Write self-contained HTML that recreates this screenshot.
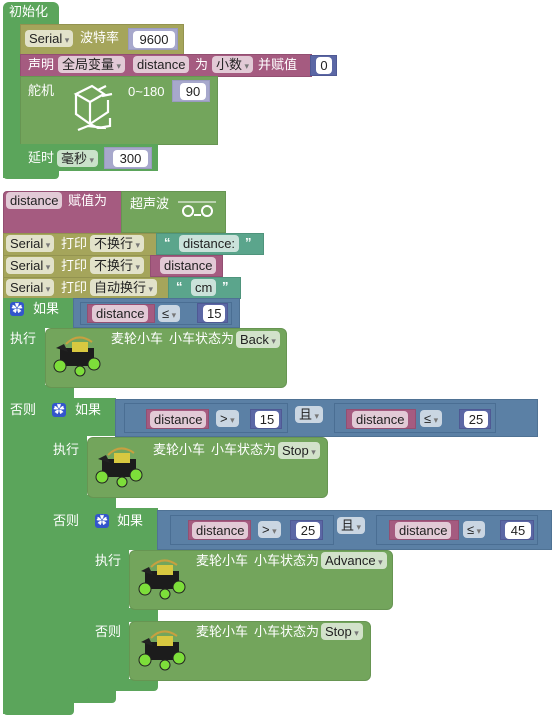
<!DOCTYPE html>
<html><head><meta charset="utf-8">
<style>
body{margin:0;width:556px;height:718px;background:#fff;position:relative;overflow:hidden;font-family:"Liberation Sans","Noto Sans CJK SC",sans-serif;}
.b{position:absolute;box-sizing:border-box;}
.t{position:absolute;color:#fff;font-size:13px;line-height:16px;white-space:nowrap;}
.f{position:absolute;box-sizing:border-box;height:17px;border-radius:4px;font-size:13px;line-height:17px;color:#222;padding:0 4px;white-space:nowrap;}
.dd::after{content:" ▾";font-size:9px;color:#777;}
.w{background:rgba(255,255,255,.68);}
.nf{background:#fff;text-align:center;}
.g{background:#5ba55b}
.g2{background:#73a55c;border:1px solid #679552}
.ol{background:#a5a55b;border:1px solid #939350}
.pk{background:#a55b80;border:1px solid #934f72}
.bl{background:#5b80a5;border:1px solid #4f7294}
.bx{border:1px solid #4a6e93;background:#5b80a5}
.nm{background:#5b67a5;border:1px solid #4f5994}
.nl{background:#a7a8cc;border:1px solid #9a9bbf}
.te{background:#5ba58c;border:1px solid #4f947c}
</style></head><body>

<!-- init -->
<div class="b g" style="left:3px;top:2px;width:56px;height:22px;border-radius:6px 6px 0 0"></div>
<div class="t" style="left:9px;top:4px">初始化</div>
<div class="b g" style="left:3px;top:20px;width:18px;height:158px"></div>
<div class="b g" style="left:3px;top:170px;width:56px;height:9px;border-radius:0 0 4px 4px"></div>

<div class="b ol" style="left:20px;top:24px;width:164px;height:31px"></div>
<div class="f w dd" style="left:25px;top:30px">Serial</div>
<div class="t" style="left:80px;top:30px">波特率</div>
<div class="b nl" style="left:128px;top:28px;width:50px;height:22px"></div>
<div class="f nf" style="left:133px;top:31px;width:42px">9600</div>

<div class="b pk" style="left:20px;top:54px;width:292px;height:23px"></div>
<div class="t" style="left:28px;top:57px">声明</div>
<div class="f w dd" style="left:58px;top:56px">全局变量</div>
<div class="f w" style="left:133px;top:56px">distance</div>
<div class="t" style="left:195px;top:57px">为</div>
<div class="f w dd" style="left:212px;top:56px">小数</div>
<div class="t" style="left:258px;top:57px">并赋值</div>
<div class="b nm" style="left:310px;top:55px;width:27px;height:21px"></div>
<div class="f nf" style="left:316px;top:57px;width:16px">0</div>

<div class="b g2" style="left:20px;top:76px;width:198px;height:69px"></div>
<div class="t" style="left:28px;top:83px">舵机</div>
<svg class="b" style="left:66px;top:82px" width="50" height="52" viewBox="0 0 50 52" fill="none" stroke="#fff" stroke-width="2.2"><path d="M10 12 L26 4 L38 12 L24 20 Z M10 12 L10 32 L24 42 L24 20 M24 42 L42 30 L42 18 M32 8 L40 4 M36 14 L46 12 M24 42 L32 46 L44 44 L44 36 M12 48 L22 44 L40 46"/></svg>
<div class="t" style="left:128px;top:84px">0~180</div>
<div class="b nl" style="left:172px;top:80px;width:38px;height:22px"></div>
<div class="f nf" style="left:180px;top:83px;width:26px">90</div>

<div class="b g" style="left:20px;top:144px;width:138px;height:27px"></div>
<div class="t" style="left:28px;top:150px">延时</div>
<div class="f w dd" style="left:57px;top:150px">毫秒</div>
<div class="b nl" style="left:104px;top:147px;width:48px;height:22px"></div>
<div class="f nf" style="left:113px;top:150px;width:35px">300</div>

<!-- second stack -->
<div class="b pk" style="left:3px;top:191px;width:120px;height:43px;border-radius:4px 0 0 0"></div>
<div class="f w" style="left:6px;top:192px">distance</div>
<div class="t" style="left:68px;top:193px">赋值为</div>
<div class="b g2" style="left:121px;top:191px;width:105px;height:42px"></div>
<div class="t" style="left:130px;top:196px">超声波</div>
<svg class="b" style="left:176px;top:200px" width="42" height="20"><path d="M2 2 H40" stroke="#fff"/><circle cx="12" cy="11" r="5" stroke="#fff" stroke-width="2" fill="none"/><circle cx="31" cy="11" r="5" stroke="#fff" stroke-width="2" fill="none"/><path d="M18 15 H25" stroke="#fff" stroke-width="2"/></svg>

<div class="b ol" style="left:3px;top:233px;width:155px;height:23px"></div>
<div class="f w dd" style="left:6px;top:235px">Serial</div>
<div class="t" style="left:61px;top:236px">打印</div>
<div class="f w dd" style="left:90px;top:235px">不换行</div>
<div class="b te" style="left:156px;top:233px;width:108px;height:22px"></div>
<div class="t" style="left:164px;top:235px;font-weight:bold">“</div>
<div class="f w" style="left:179px;top:235px">distance:</div>
<div class="t" style="left:245px;top:235px;font-weight:bold">”</div>

<div class="b ol" style="left:3px;top:255px;width:155px;height:23px"></div>
<div class="f w dd" style="left:6px;top:257px">Serial</div>
<div class="t" style="left:61px;top:258px">打印</div>
<div class="f w dd" style="left:90px;top:257px">不换行</div>
<div class="b pk" style="left:150px;top:255px;width:73px;height:22px"></div>
<div class="f w" style="left:160px;top:257px">distance</div>

<div class="b ol" style="left:3px;top:277px;width:167px;height:22px"></div>
<div class="f w dd" style="left:6px;top:279px">Serial</div>
<div class="t" style="left:61px;top:280px">打印</div>
<div class="f w dd" style="left:90px;top:279px">自动换行</div>
<div class="b te" style="left:168px;top:277px;width:73px;height:22px"></div>
<div class="t" style="left:176px;top:279px;font-weight:bold">“</div>
<div class="f w" style="left:191px;top:279px">cm</div>
<div class="t" style="left:222px;top:279px;font-weight:bold">”</div>

<!-- outer if -->
<div class="b g" style="left:3px;top:298px;width:71px;height:30px"></div>
<div class="b g" style="left:3px;top:298px;width:42px;height:416px"></div>
<div class="b g" style="left:3px;top:385px;width:71px;height:14px"></div>
<div class="b g" style="left:3px;top:700px;width:71px;height:15px;border-radius:0 0 4px 4px"></div>
<div class="b" style="left:10px;top:302px;width:14px;height:14px;background:#3355cc;border-radius:3px;color:#fff;font-size:11px;line-height:14px;text-align:center">✿</div>
<div class="t" style="left:33px;top:301px">如果</div>
<div class="t" style="left:10px;top:331px">执行</div>
<div class="t" style="left:10px;top:402px">否则</div>
<div class="b bl" style="left:73px;top:298px;width:167px;height:30px"></div>
<div class="b bx" style="left:80px;top:302px;width:152px;height:23px"></div>
<div class="b pk" style="left:87px;top:304px;width:68px;height:19px"></div>
<div class="f w" style="left:92px;top:305px">distance</div>
<div class="f w dd" style="left:158px;top:305px">≤</div>
<div class="b nm" style="left:197px;top:303px;width:31px;height:20px"></div>
<div class="f nf" style="left:203px;top:305px;width:22px">15</div>

<div class="b g2" style="left:45px;top:328px;width:242px;height:60px;border-radius:6px"></div>
<svg class="b" style="left:52px;top:334px" width="50" height="44"><path d="M14 10 Q26 -2 40 8" stroke="#c8a040" fill="none" stroke-width="2"/><rect x="8" y="14" width="34" height="18" fill="#1c1c1c"/><rect x="20" y="8" width="16" height="10" fill="#d8c840"/><path d="M4 14 L12 10 L16 18 Z" fill="#222"/><circle cx="8" cy="32" r="6" fill="#7dde3a" stroke="#222"/><circle cx="42" cy="30" r="6" fill="#7dde3a" stroke="#222"/><circle cx="28" cy="37" r="5" fill="#7dde3a" stroke="#222"/></svg>
<div class="t" style="left:111px;top:331px">麦轮小车</div>
<div class="t" style="left:169px;top:331px">小车状态为</div>
<div class="f w dd" style="left:236px;top:331px">Back</div>

<!-- if1 -->
<div class="b g" style="left:45px;top:398px;width:71px;height:38px;border-radius:6px 0 0 0"></div>
<div class="b g" style="left:45px;top:398px;width:42px;height:305px"></div>
<div class="b g" style="left:45px;top:495px;width:71px;height:14px"></div>
<div class="b g" style="left:45px;top:690px;width:71px;height:13px;border-radius:0 0 4px 4px"></div>
<div class="b" style="left:52px;top:403px;width:14px;height:14px;background:#3355cc;border-radius:3px;color:#fff;font-size:11px;line-height:14px;text-align:center">✿</div>
<div class="t" style="left:75px;top:402px">如果</div>
<div class="t" style="left:53px;top:442px">执行</div>
<div class="t" style="left:53px;top:513px">否则</div>
<div class="b bl" style="left:115px;top:399px;width:423px;height:38px"></div>
<div class="b bx" style="left:124px;top:403px;width:164px;height:30px"></div>
<div class="b pk" style="left:146px;top:409px;width:63px;height:20px"></div>
<div class="f w" style="left:150px;top:411px">distance</div>
<div class="f w dd" style="left:216px;top:410px">&gt;</div>
<div class="b nm" style="left:250px;top:409px;width:32px;height:20px"></div>
<div class="f nf" style="left:255px;top:411px;width:24px">15</div>
<div class="f w dd" style="left:295px;top:406px">且</div>
<div class="b bx" style="left:334px;top:403px;width:162px;height:30px"></div>
<div class="b pk" style="left:346px;top:409px;width:70px;height:20px"></div>
<div class="f w" style="left:352px;top:411px">distance</div>
<div class="f w dd" style="left:420px;top:410px">≤</div>
<div class="b nm" style="left:459px;top:409px;width:32px;height:20px"></div>
<div class="f nf" style="left:464px;top:411px;width:24px">25</div>

<div class="b g2" style="left:87px;top:437px;width:241px;height:61px;border-radius:6px"></div>
<svg class="b" style="left:94px;top:445px" width="50" height="44"><path d="M14 10 Q26 -2 40 8" stroke="#c8a040" fill="none" stroke-width="2"/><rect x="8" y="14" width="34" height="18" fill="#1c1c1c"/><rect x="20" y="8" width="16" height="10" fill="#d8c840"/><path d="M4 14 L12 10 L16 18 Z" fill="#222"/><circle cx="8" cy="32" r="6" fill="#7dde3a" stroke="#222"/><circle cx="42" cy="30" r="6" fill="#7dde3a" stroke="#222"/><circle cx="28" cy="37" r="5" fill="#7dde3a" stroke="#222"/></svg>
<div class="t" style="left:153px;top:442px">麦轮小车</div>
<div class="t" style="left:211px;top:442px">小车状态为</div>
<div class="f w dd" style="left:278px;top:442px">Stop</div>

<!-- if2 -->
<div class="b g" style="left:87px;top:508px;width:71px;height:42px;border-radius:6px 0 0 0"></div>
<div class="b g" style="left:87px;top:508px;width:42px;height:183px"></div>
<div class="b g" style="left:87px;top:608px;width:71px;height:14px"></div>
<div class="b g" style="left:87px;top:679px;width:71px;height:12px;border-radius:0 0 4px 4px"></div>
<div class="b" style="left:95px;top:514px;width:14px;height:14px;background:#3355cc;border-radius:3px;color:#fff;font-size:11px;line-height:14px;text-align:center">✿</div>
<div class="t" style="left:117px;top:513px">如果</div>
<div class="t" style="left:95px;top:553px">执行</div>
<div class="t" style="left:95px;top:624px">否则</div>
<div class="b bl" style="left:157px;top:510px;width:395px;height:40px"></div>
<div class="b bx" style="left:170px;top:515px;width:164px;height:30px"></div>
<div class="b pk" style="left:188px;top:520px;width:63px;height:20px"></div>
<div class="f w" style="left:192px;top:522px">distance</div>
<div class="f w dd" style="left:258px;top:521px">&gt;</div>
<div class="b nm" style="left:290px;top:520px;width:33px;height:20px"></div>
<div class="f nf" style="left:296px;top:522px;width:24px">25</div>
<div class="f w dd" style="left:337px;top:517px">且</div>
<div class="b bx" style="left:376px;top:515px;width:162px;height:30px"></div>
<div class="b pk" style="left:389px;top:520px;width:70px;height:20px"></div>
<div class="f w" style="left:395px;top:522px">distance</div>
<div class="f w dd" style="left:463px;top:521px">≤</div>
<div class="b nm" style="left:500px;top:520px;width:34px;height:20px"></div>
<div class="f nf" style="left:505px;top:522px;width:26px">45</div>

<div class="b g2" style="left:129px;top:550px;width:264px;height:60px;border-radius:6px"></div>
<svg class="b" style="left:137px;top:557px" width="50" height="44"><path d="M14 10 Q26 -2 40 8" stroke="#c8a040" fill="none" stroke-width="2"/><rect x="8" y="14" width="34" height="18" fill="#1c1c1c"/><rect x="20" y="8" width="16" height="10" fill="#d8c840"/><path d="M4 14 L12 10 L16 18 Z" fill="#222"/><circle cx="8" cy="32" r="6" fill="#7dde3a" stroke="#222"/><circle cx="42" cy="30" r="6" fill="#7dde3a" stroke="#222"/><circle cx="28" cy="37" r="5" fill="#7dde3a" stroke="#222"/></svg>
<div class="t" style="left:196px;top:553px">麦轮小车</div>
<div class="t" style="left:254px;top:553px">小车状态为</div>
<div class="f w dd" style="left:321px;top:552px">Advance</div>

<div class="b g2" style="left:129px;top:621px;width:242px;height:60px;border-radius:6px"></div>
<svg class="b" style="left:137px;top:628px" width="50" height="44"><path d="M14 10 Q26 -2 40 8" stroke="#c8a040" fill="none" stroke-width="2"/><rect x="8" y="14" width="34" height="18" fill="#1c1c1c"/><rect x="20" y="8" width="16" height="10" fill="#d8c840"/><path d="M4 14 L12 10 L16 18 Z" fill="#222"/><circle cx="8" cy="32" r="6" fill="#7dde3a" stroke="#222"/><circle cx="42" cy="30" r="6" fill="#7dde3a" stroke="#222"/><circle cx="28" cy="37" r="5" fill="#7dde3a" stroke="#222"/></svg>
<div class="t" style="left:196px;top:624px">麦轮小车</div>
<div class="t" style="left:254px;top:624px">小车状态为</div>
<div class="f w dd" style="left:321px;top:623px">Stop</div>

</body></html>
